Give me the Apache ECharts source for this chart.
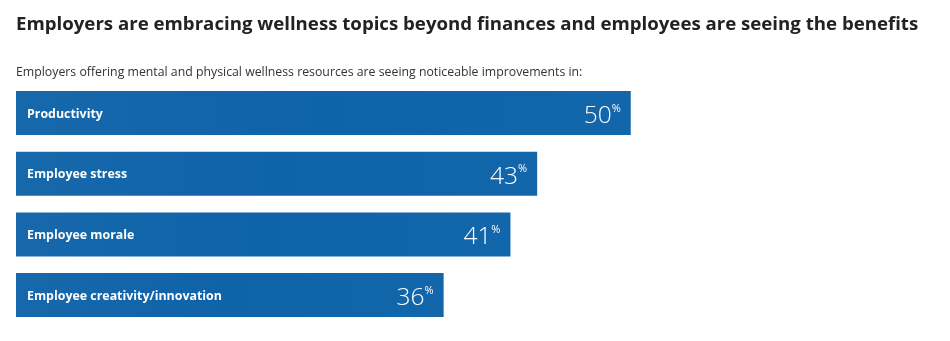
<!DOCTYPE html>
<html><head><meta charset="utf-8">
<script src="https://cdn.jsdelivr.net/npm/echarts@6/dist/echarts.min.js"></script>
<style>html,body{margin:0;padding:0;background:#fff}#c{width:950px;height:341px}</style>
</head><body><div id="c"></div>
<script>
const titleText = 'Employers are embracing wellness topics beyond finances and employees are seeing the benefits';
const subtitleText = 'Employers offering mental and physical wellness resources are seeing noticeable improvements in:';
const categories = ['Productivity', 'Employee stress', 'Employee morale', 'Employee creativity/innovation'];
const values = [50, 43, 41, 36];

const chart = echarts.init(document.getElementById('c'), null, {renderer: 'canvas'});
const barColor = {
  type: 'linear', x: 0, y: 0, x2: 1, y2: 0,
  colorStops: [{offset: 0, color: '#1768ab'}, {offset: 0.5, color: '#0f63a9'}, {offset: 1, color: '#1266aa'}]
};
chart.setOption({
  animation: false,
  title: [
    {text: titleText, left: 11, top: 10, textStyle: {fontFamily: 'Open Sans', fontWeight: 'bold', fontSize: 18.65, color: '#222'}},
    {text: subtitleText, left: 11, top: 61, textStyle: {fontFamily: 'Open Sans', fontWeight: 'normal', fontSize: 12.3, color: '#333'}}
  ],
  grid: {left: 16, top: 82.7, height: 242.7, right: 52, containLabel: false},
  xAxis: {type: 'value', min: 4, max: 70, show: false},
  yAxis: {type: 'category', data: categories, inverse: true, show: false},
  series: [
    {
      type: 'bar', data: values, barWidth: 44, itemStyle: {color: barColor},
      label: {
        show: true, position: 'insideRight', distance: 10, offset: [0, 3],
        formatter: p => '{v|' + p.value + '}{p|%}',
        rich: {
          v: {fontFamily: 'Open Sans', fontWeight: 300, fontSize: 24.5, lineHeight: 28, color: '#fff', verticalAlign: 'middle'},
          p: {fontFamily: 'Open Sans', fontSize: 11, lineHeight: 12, color: '#fff', verticalAlign: 'top', padding: [1, 0, 0, 0]}
        }
      }
    },
    {
      type: 'bar', data: values, barWidth: 44, barGap: '-100%', itemStyle: {color: 'rgba(0,0,0,0)'},
      label: {
        show: true, position: 'insideLeft', distance: 11, formatter: '{b}', offset: [0, 1],
        fontFamily: 'Open Sans', fontWeight: 'bold', fontSize: 12.4, color: '#fff'
      }
    }
  ]
});
</script></body></html>
